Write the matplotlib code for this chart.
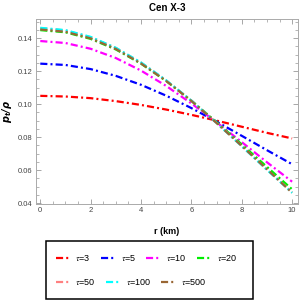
#! /usr/bin/env python3

import numpy as np
from matplotlib import pyplot as plt
from matplotlib.patches import Rectangle
from matplotlib.ticker import MultipleLocator


plt.rcParams['font.family'] = ['Liberation Sans', 'DejaVu Sans']

# radius (km)
r = [0, 1, 2, 3, 4, 5, 6, 7, 8, 9, 10]

# p_t / rho for each tau
tau_3 = [0.1050, 0.1046, 0.1036, 0.1018, 0.0995, 0.0967, 0.0935, 0.0900, 0.0863, 0.0826, 0.0792]
tau_5 = [0.1245, 0.1237, 0.1212, 0.1171, 0.1117, 0.1051, 0.0976, 0.0894, 0.0808, 0.0721, 0.0636]
tau_10 = [0.1382, 0.1370, 0.1335, 0.1279, 0.1203, 0.1110, 0.1004, 0.0890, 0.0770, 0.0648, 0.0530]
tau_20 = [0.1448, 0.1435, 0.1395, 0.1331, 0.1245, 0.1140, 0.1021, 0.0891, 0.0756, 0.0620, 0.0484]
tau_50 = [0.1460, 0.1446, 0.1405, 0.1340, 0.1251, 0.1143, 0.1021, 0.0886, 0.0746, 0.0604, 0.0466]
tau_100 = [0.1462, 0.1448, 0.1407, 0.1341, 0.1252, 0.1144, 0.1021, 0.0886, 0.0745, 0.0602, 0.0463]
tau_500 = [0.1452, 0.1438, 0.1398, 0.1334, 0.1246, 0.1140, 0.1019, 0.0886, 0.0747, 0.0606, 0.0463]

labels = ['3', '5', '10', '20', '50', '100', '500']
colors = ['#ff0000', '#0000ff', '#ff00ff', '#00ee00', '#ff8080', '#00ffff', '#996633']
series = [tau_3, tau_5, tau_10, tau_20, tau_50, tau_100, tau_500]


fig = plt.figure(figsize=(3, 3), dpi=100)
ax = fig.add_axes([0.12, 0.32, 0.873, 0.617])

handles = []
for y, c, lab in zip(series, colors, labels):
    line, = ax.plot(r, y, color=c, lw=1.6, linestyle=(0, (3.2, 1.4, 0.9, 1.4)),
                    label=r'$\tau$=' + lab)
    handles.append(line)

ax.set_xlim(-0.17, 10.23)
ax.set_ylim(0.0395, 0.1516)

# Mathematica-like frame
ax.xaxis.set_major_locator(MultipleLocator(2))
ax.xaxis.set_minor_locator(MultipleLocator(0.5))
ax.yaxis.set_major_locator(MultipleLocator(0.02))
ax.yaxis.set_minor_locator(MultipleLocator(0.005))
ax.yaxis.set_major_formatter(lambda v, p: f'{v:.2f}')
ax.tick_params(which='both', direction='in', top=True, right=True,
               colors='#999999', labelcolor='#444444', labelsize=5.5, pad=2.5)
ax.tick_params(which='major', length=3.5, width=0.6)
ax.tick_params(which='minor', length=2, width=0.5)
for s in ax.spines.values():
    s.set_color('#aaaaaa')
    s.set_linewidth(0.7)

ax.set_title('Cen X-3', fontsize=7, fontweight='bold', pad=6)
ax.set_xlabel('r (km)', fontsize=6.5, fontweight='bold', labelpad=9)
ax.set_ylabel(r'$\mathbfit{p_t/\rho}$', fontsize=7, labelpad=3)

# legend: one row each, with a common box around them
leg_kw = dict(loc='center left', frameon=False, borderpad=0, handlelength=1.45,
              handletextpad=0.75, columnspacing=1.1,
              prop={'size': 6.5, 'math_fontfamily': 'stix'})
leg1 = fig.legend(handles[:4], [h.get_label() for h in handles[:4]], ncol=4,
                  bbox_to_anchor=(51 / 300, 1 - 257.7 / 300), **leg_kw)
leg2 = fig.legend(handles[4:], [h.get_label() for h in handles[4:]], ncol=3,
                  bbox_to_anchor=(51 / 300, 1 - 281.7 / 300), **leg_kw)
fig.add_artist(Rectangle((46 / 300, 1 / 300), 207 / 300, 58 / 300, transform=fig.transFigure,
                         fill=False, edgecolor='black', linewidth=1.1))

fig.savefig('out.png', dpi=100)
